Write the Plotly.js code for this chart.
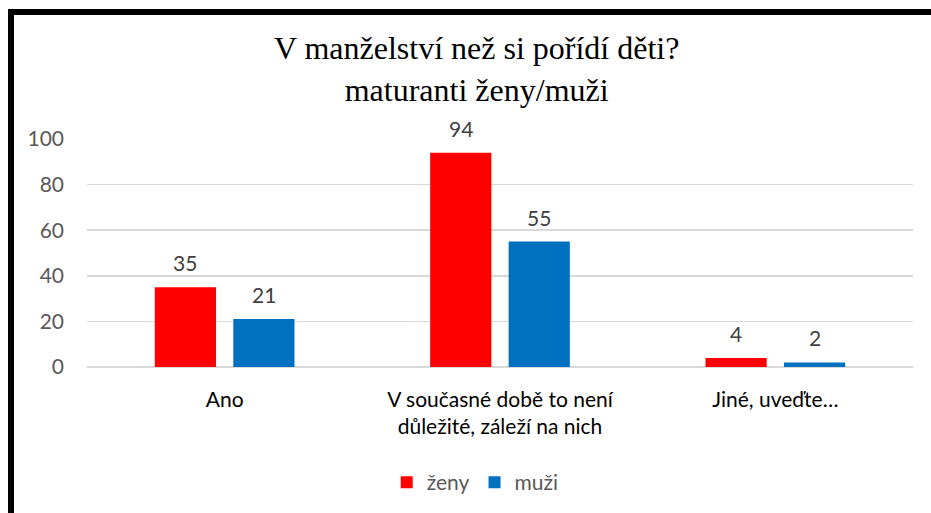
<!DOCTYPE html>
<html>
<head>
<meta charset="utf-8">
<script src="https://cdn.plot.ly/plotly-3.0.1.min.js"></script>
<style>
html,body{margin:0;padding:0;overflow:hidden;background:#fff;}
#frame{position:absolute;left:8px;top:9px;width:1000px;height:1000px;border-left:6px solid #000;border-top:6px solid #000;pointer-events:none;z-index:5;}
#chart{width:931px;height:513px;}
</style>
</head>
<body>
<div id="chart"></div>
<div id="frame"></div>
<script>
const categories = ["Ano", "V současné době to není<br>důležité, záleží na nich", "Jiné, uveďte…"];
const zeny = [35, 94, 4];
const muzi = [21, 55, 2];
const seriesNames = ["ženy", "muži"];
const tickVals = [0, 20, 40, 60, 80, 100];

const FONT = "Lato, 'Open Sans', sans-serif";
const labelFont = {family: FONT, size: 21, color: "#404040"};
const bargap = 0.43, bargroupgap = 0.22;
const half = (1 - bargap) / 4; // offset of each bar centre within the group

const traces = [
  {type: "bar", name: seriesNames[0], x: categories, y: zeny, marker: {color: "#FF0000"}},
  {type: "bar", name: seriesNames[1], x: categories, y: muzi, marker: {color: "#0070C0"}}
];
const annotations = [];
[zeny, muzi].forEach((vals, s) => {
  vals.forEach((v, i) => {
    annotations.push({x: i + (s === 0 ? -half : half), y: v, xref: "x", yref: "y",
      text: String(v), showarrow: false, yanchor: "bottom", yshift: 10, font: labelFont});
  });
});

const layout = {
  width: 931, height: 513,
  margin: {l: 87, r: 18, t: 139, b: 145},
  paper_bgcolor: "#fff", plot_bgcolor: "#fff",
  title: {text: "V manželství než si pořídí děti?<br>maturanti ženy/muži",
          font: {family: "'Liberation Serif', 'Times New Roman', serif", size: 32, color: "#000"},
          x: 0.512, xanchor: "center", yref: "container", y: 0.885, yanchor: "top"},
  barmode: "group", bargap: bargap, bargroupgap: bargroupgap,
  annotations: annotations,
  xaxis: {type: "category", showgrid: false, zeroline: false, showline: false, ticks: "",
          tickfont: {family: FONT, size: 21, color: "#000"}, ticklabelstandoff: 18},
  yaxis: {range: [0, 100], tickvals: tickVals, showgrid: true, gridcolor: "#D9D9D9", gridwidth: 1.5,
          zeroline: true, zerolinecolor: "#D9D9D9", zerolinewidth: 1.5, showline: false, ticks: "",
          tickfont: {family: FONT, size: 21, color: "#595959"}, ticklabelstandoff: 22},
  showlegend: true,
  legend: {orientation: "h", x: 0.47, xanchor: "center", y: -0.5, yanchor: "middle",
           font: {family: FONT, size: 21, color: "#595959"}},
  font: {family: FONT}
};
Plotly.newPlot("chart", traces, layout, {displayModeBar: false, staticPlot: true});
</script>
</body>
</html>
